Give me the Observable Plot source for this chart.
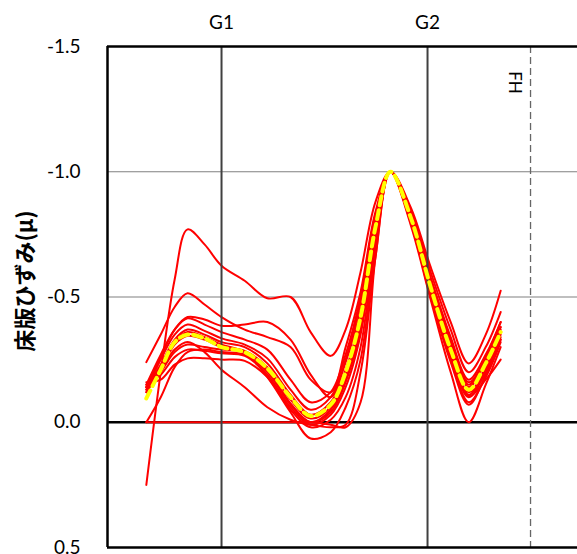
<!DOCTYPE html>
<html><head><meta charset="utf-8">
<script src="https://cdn.jsdelivr.net/npm/d3@7"></script>
<script src="https://cdn.jsdelivr.net/npm/@observablehq/plot@0.6"></script>
<style>body{margin:0;background:#fff;}</style>
</head><body><div id="chart"></div>
<script>
// measurement positions (mm, G1 = 0)
const positions = [-730,-590,-455,-330,-165,0,225,445,670,865,1060,1205,1350,1495,1640,1835,2030,2225,2400,2565,2710];
// girder / reference line positions
const girderLabels = ["G1", "G2"];
const girderX = [0, 2000];
const fhLabel = "FH";
const fhX = 3000;
const yTicks = [-1.5, -1.0, -0.5, 0.0, 0.5];
const xDomain = [-1107, 3456];
const yTitle = "床版ひずみ(μ)";

// normalized slab strain, individual runs
const runA  = [0.25,-0.20,-0.57,-0.77,-0.71,-0.625,-0.565,-0.495,-0.50,-0.36,-0.265,-0.37,-0.60,-0.88,-1.0,-0.86,-0.62,-0.40,-0.235,-0.35,-0.525];
const runB  = [-0.24,-0.35,-0.46,-0.515,-0.47,-0.42,-0.37,-0.34,-0.30,-0.17,-0.12,-0.30,-0.52,-0.84,-1.0,-0.85,-0.60,-0.37,-0.20,-0.30,-0.44];
const runC  = [-0.14,-0.26,-0.37,-0.42,-0.41,-0.385,-0.39,-0.40,-0.33,-0.19,-0.10,-0.25,-0.48,-0.82,-1.0,-0.84,-0.58,-0.34,-0.17,-0.27,-0.40];
const runD  = [-0.15,-0.27,-0.37,-0.415,-0.39,-0.36,-0.33,-0.29,-0.17,-0.08,-0.12,-0.27,-0.50,-0.83,-1.0,-0.83,-0.56,-0.31,-0.16,-0.25,-0.38];
const runE  = [-0.13,-0.25,-0.35,-0.39,-0.365,-0.335,-0.31,-0.255,-0.13,-0.05,-0.10,-0.24,-0.45,-0.81,-1.0,-0.82,-0.55,-0.30,-0.14,-0.24,-0.37];
const runF  = [-0.14,-0.23,-0.33,-0.37,-0.35,-0.32,-0.30,-0.235,-0.11,-0.03,-0.08,-0.21,-0.42,-0.79,-1.0,-0.81,-0.53,-0.28,-0.12,-0.22,-0.35];
const runG  = [-0.12,-0.21,-0.31,-0.345,-0.33,-0.30,-0.285,-0.22,-0.09,-0.015,-0.06,-0.19,-0.40,-0.78,-1.0,-0.81,-0.52,-0.26,-0.10,-0.20,-0.33];
const runH  = [-0.13,-0.20,-0.28,-0.31,-0.30,-0.29,-0.28,-0.21,-0.075,0.0,-0.04,-0.16,-0.37,-0.76,-1.0,-0.80,-0.51,-0.25,-0.08,-0.18,-0.32];
const runI  = [-0.15,-0.19,-0.26,-0.29,-0.285,-0.275,-0.265,-0.19,-0.06,0.01,-0.03,-0.14,-0.35,-0.74,-1.0,-0.82,-0.53,-0.27,-0.105,-0.17,-0.25];
const runJ  = [-0.16,-0.17,-0.23,-0.255,-0.255,-0.25,-0.245,-0.18,-0.05,0.02,-0.01,-0.10,-0.30,-0.72,-1.0,-0.79,-0.49,-0.20,0.0,-0.15,-0.30];
const runK  = [-0.12,-0.22,-0.32,-0.36,-0.34,-0.31,-0.28,-0.18,-0.04,0.065,0.04,-0.06,-0.25,-0.70,-1.0,-0.80,-0.50,-0.24,-0.07,-0.19,-0.34];
const runL  = [-0.14,-0.21,-0.29,-0.32,-0.28,-0.21,-0.14,-0.06,-0.01,0.01,0.02,0.01,-0.20,-0.66,-1.0,-0.83,-0.56,-0.32,-0.14,-0.26,-0.40];
const runM  = [0.0,-0.10,-0.22,-0.28,-0.29,-0.28,-0.27,-0.20,-0.07,0.0,-0.05,-0.17,-0.38,-0.77,-1.0,-0.82,-0.54,-0.29,-0.11,-0.21,-0.33];
const runN  = [0,0,0,0,0,0,0,0,0,0,0.01,0.02,-0.08,-0.66,-1.0,-0.84,-0.57,-0.33,-0.15,-0.26,-0.38];
// average
const meanRun = [-0.095,-0.21,-0.32,-0.35,-0.335,-0.30,-0.28,-0.215,-0.10,-0.025,-0.07,-0.20,-0.42,-0.78,-1.0,-0.82,-0.54,-0.29,-0.13,-0.235,-0.36];

const runs = [runA,runB,runC,runD,runE,runF,runG,runH,runI,runJ,runK,runL,runM,runN];
const table = runs.flatMap((r, k) => r.map((v, i) => ({id: k, x: positions[i], y: v})));
const meanTable = meanRun.map((v, i) => ({x: positions[i], y: v}));

const fmt = d => d.toFixed(1);

const chart = Plot.plot({
  width: 577,
  height: 554,
  marginTop: 46,
  marginBottom: 7,
  marginLeft: 107,
  marginRight: 0,
  style: {fontFamily: "Lato, 'Open Sans', sans-serif", fontSize: "19px", background: "#fff", color: "#000", overflow: "visible"},
  x: {domain: xDomain, axis: null},
  y: {domain: [0.5, -1.5], ticks: yTicks, tickFormat: fmt, tickSize: 0, tickPadding: 27, label: null},
  marks: [
    Plot.ruleY([-1.0, -0.5], {stroke: "#808080", strokeWidth: 1.2}),
    Plot.ruleY([0], {stroke: "#000", strokeWidth: 2.5}),
    Plot.ruleX([fhX], {stroke: "#666", strokeWidth: 1.3, strokeDasharray: "7,4"}),
    Plot.line(table, {x: "x", y: "y", z: "id", stroke: "#ff0000", strokeWidth: 2, curve: "catmull-rom"}),
    Plot.ruleX(girderX, {stroke: "#404040", strokeWidth: 2}),
    Plot.line(meanTable, {x: "x", y: "y", stroke: "#ffff00", strokeWidth: 4, strokeDasharray: "9,5", curve: "catmull-rom"}),
    Plot.ruleX([xDomain[0]], {stroke: "#000", strokeWidth: 2.5}),
    Plot.ruleY([-1.5, 0.5], {stroke: "#000", strokeWidth: 2.5}),
    Plot.text(girderLabels, {x: (d, i) => girderX[i], y: () => -1.5, text: d => d, dy: -24, fontSize: 19}),
    Plot.text([fhLabel], {x: () => fhX, y: () => -1.5, text: d => d, rotate: 90, dx: -16, dy: 36, fontSize: 17}),
    Plot.text([yTitle], {frameAnchor: "left", textAnchor: "middle", text: d => d, rotate: -90, dx: -82, dy: -16,
      fontSize: 22, fontWeight: "bold", fontFamily: "'Noto Sans CJK JP', sans-serif"})
  ]
});
document.getElementById("chart").appendChild(chart);
</script>
</body></html>
